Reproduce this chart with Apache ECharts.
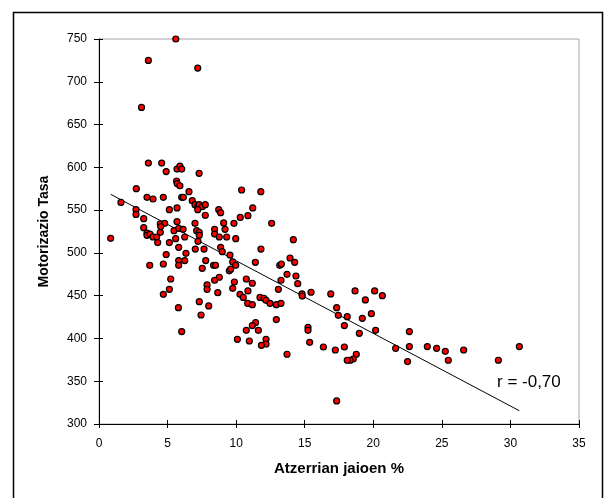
<!DOCTYPE html>
<html><head><meta charset="utf-8">
<script src="https://cdn.jsdelivr.net/npm/echarts@6/dist/echarts.min.js"></script>
<style>html,body{margin:0;padding:0;background:#fff}#c{width:611px;height:498px}</style>
</head><body><div id="c"></div>
<script>
// Scatter data: x = Atzerrian jaioen %, y = Motorizazio Tasa
const xValues = [
5.6,3.6,7.2,3.1,3.6,4.57,4.9,5.69,5.9,6.03,7.3,5.66,5.7,5.9,6.56,2.72,10.4,11.8,3.5,3.94,4.69,6.03,6.15,6.8,
1.6,0.85,2.7,2.7,3.26,3.26,3.5,3.5,3.72,3.94,4.2,4.28,4.47,4.47,4.79,4.5,5.13,5.13,4.9,4.69,3.7,5.23,5.13,4.69,
5.69,5.69,5.47,5.81,6.13,5.59,6.25,5.81,6.34,5.81,6.25,5.81,5.79,6.03,7.0,7.0,7.2,7.31,7.53,7.75,7.2,7.75,
7.12,7.31,7.31,7.22,7.02,7.66,7.78,7.53,7.88,7.88,7.31,8.0,7.44,8.73,8.87,9.09,9.19,8.43,8.43,8.77,9.31,8.87,
8.99,9.55,8.35,8.5,8.77,8.43,8.66,9.75,9.97,9.5,9.6,9.87,9.75,10.28,10.52,10.86,10.74,11.18,10.84,11.18,11.74,
12.03,12.18,12.47,12.93,13.27,9.84,9.97,10.3,10.86,11.21,12.59,11.81,11.4,13.18,13.3,13.71,13.27,13.08,13.93,
12.93,11.42,11.18,10.74,11.62,10.09,10.96,12.18,12.18,11.84,13.71,
14.17,14.27,14.36,14.49,14.8,14.82,15.46,16.9,18.67,20.1,20.66,19.42,
17.33,17.45,18.1,19.86,19.2,17.89,18.98,20.17,15.24,15.24,15.36,16.36,17.23,17.89,18.76,18.54,18.32,18.1,17.33,
21.63,22.5,22.63,22.63,23.94,24.62,25.25,25.47,26.59,29.12,30.65
];
const yValues = [
750,725,716,670,605,605,595,598,601.5,598,593,584,581,578.5,571.5,575,573.5,571.5,565,563,565,565,565,561,
559,517,550.5,545,540,529.5,523,520.5,522,518.6,518.6,512,533.8,524,534.6,530.7,550.5,512,498,487,485.5,469.5,457.4,451.6,
552.5,536.5,526,528.7,527.5,516.6,518.6,506.5,499.5,491,491,485.5,436,408,534.6,556.4,554,556.4,554,556.4,550.5,544,
526,524,520.5,513.5,504.5,504.5,491,482,462.5,457.4,443,438,427.4,550.5,547,535,527.5,527.5,522,518.6,518.6,506.5,
501.4,497.5,485.5,485.5,471.5,468,453.5,489.4,485.5,479,481,466,458.6,451.6,448,455.5,469.5,464.5,441,439.5,448,
447,444.6,441,439.5,441,534.6,516.6,541.5,543.5,552.5,534.6,504.5,489,485.5,487,475,468,457.4,494,
422,418.5,415,409.5,409.5,399,397,399,393.5,392,381.5,
515.4,489,473,464,452,449.5,454,452,455.5,455.5,450,445,
436,427,425.5,429,423.5,415,406,409.5,413,409.5,395.5,390,386.5,390,381.5,376,374.5,374.5,327,
388.5,373,408,390.5,390.5,388.5,385,374.5,386.5,374.5,390.5
];
// Trend line end points
const trendX = [0.85, 30.65];
const trendY = [568.5, 315.5];
const xTickLabels = ['0','5','10','15','20','25','30','35'];
const yTickLabels = ['300','350','400','450','500','550','600','650','700','750'];
const xTitle = 'Atzerrian jaioen %';
const yTitle = 'Motorizazio Tasa';
const rText = 'r = -0,70';

const FONT = "'Liberation Sans', Arial, sans-serif";
const points = xValues.map((x, i) => [x, yValues[i]]);
const trend = trendX.map((x, i) => [x, trendY[i]]);

const G = {left: 99, top: 39, width: 480, height: 385};
const chart = echarts.init(document.getElementById('c'), null, {renderer: 'canvas'});
const labelStyle = {color: '#000', fontFamily: FONT, fontSize: 12};
chart.setOption({
  animation: false,
  backgroundColor: '#fff',
  grid: {left: G.left, top: G.top, width: G.width, height: G.height, show: true, borderColor: '#a6a6a6', borderWidth: 1, backgroundColor: 'transparent'},
  xAxis: [{
    type: 'value', min: 0, max: 35, interval: 5, position: 'bottom',
    axisLine: {show: true, lineStyle: {color: '#000', width: 1}},
    axisTick: {show: true, length: 4, lineStyle: {color: '#000'}},
    splitLine: {show: false},
    axisLabel: Object.assign({margin: 14, formatter: (v) => xTickLabels[Math.round(v / 5)]}, labelStyle)
  }, {
    type: 'value', min: 0, max: 35, interval: 5, position: 'bottom',
    axisLine: {show: false}, axisTick: {show: true, inside: true, length: 4, lineStyle: {color: '#000'}},
    splitLine: {show: false}, axisLabel: {show: false}
  }],
  yAxis: [{
    type: 'value', min: 300, max: 750, interval: 50, position: 'left',
    axisLine: {show: true, lineStyle: {color: '#000', width: 1}},
    axisTick: {show: true, length: 5, lineStyle: {color: '#000'}},
    splitLine: {show: false},
    axisLabel: Object.assign({margin: 12, formatter: (v) => yTickLabels[Math.round((v - 300) / 50)]}, labelStyle)
  }, {
    type: 'value', min: 300, max: 750, interval: 50, position: 'left',
    axisLine: {show: false}, axisTick: {show: true, inside: true, length: 4, lineStyle: {color: '#000'}},
    splitLine: {show: false}, axisLabel: {show: false}
  }],
  series: [{
    type: 'line', xAxisIndex: 0, yAxisIndex: 0, data: trend, showSymbol: false, symbol: 'none',
    lineStyle: {color: '#000', width: 1}, z: 2, silent: true
  }, {
    type: 'scatter', xAxisIndex: 0, yAxisIndex: 0, data: points, symbol: 'circle', symbolSize: 6,
    itemStyle: {color: '#ff0000', borderColor: '#000', borderWidth: 1.2, opacity: 1}, z: 3
  }],
  graphic: [
    {type: 'rect', shape: {x: 13.5, y: 12.5, width: 589, height: 520}, style: {fill: 'none', stroke: '#000', lineWidth: 1.5}, silent: true, z: 100},
    {type: 'text', x: 497, y: 382, style: {text: rText, font: '17px ' + FONT, fill: '#000', textVerticalAlign: 'middle', verticalAlign: 'middle'}, z: 100},
    {type: 'text', x: 339, y: 469, style: {text: xTitle, font: 'bold 15px ' + FONT, fill: '#000', align: 'center', textAlign: 'center', verticalAlign: 'middle', textVerticalAlign: 'middle'}, z: 100},
    {type: 'text', x: 44, y: 231.5, rotation: Math.PI / 2, style: {text: yTitle, font: 'bold 14px ' + FONT, fill: '#000', align: 'center', textAlign: 'center', verticalAlign: 'middle', textVerticalAlign: 'middle'}, z: 100}
  ]
});
</script></body></html>
